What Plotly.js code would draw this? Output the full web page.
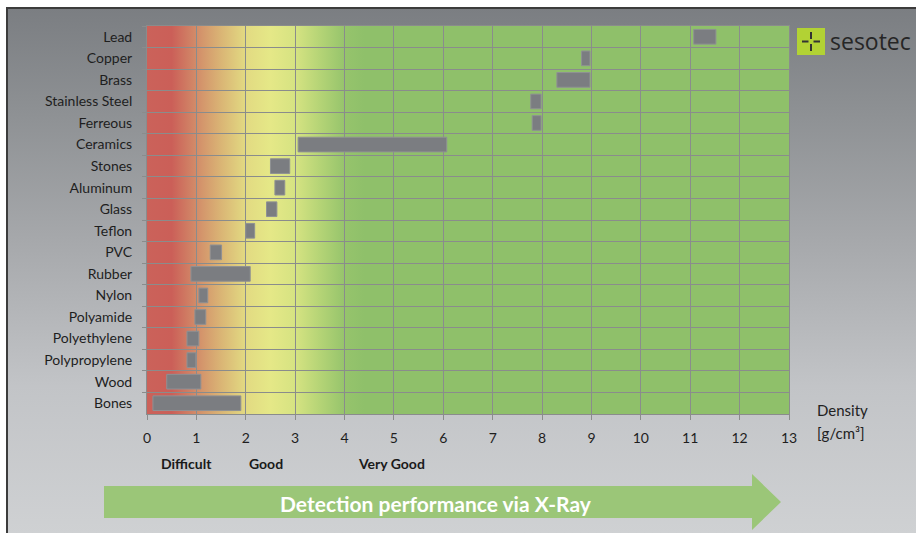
<!DOCTYPE html>
<html>
<head>
<meta charset="utf-8">
<script src="https://cdn.plot.ly/plotly-3.0.1.min.js"></script>
<style>
  html, body { margin: 0; padding: 0; background: #ffffff; width: 916px; height: 533px; overflow: hidden; }
  #bg { position: absolute; left: 6px; top: 7px; width: 910px; height: 526px; box-sizing: border-box;
        border-left: 2px solid #3c3c3c; border-top: 2px solid #3c3c3c;
        background: linear-gradient(to bottom, #7b7e82 0%, #8e9194 20%, #a7a9ac 45%, #c2c4c7 72%, #cfd1d3 100%); }
  #chart { position: absolute; left: 0; top: 0; width: 916px; height: 533px; }
</style>
</head>
<body>
<div id="bg"></div>
<div id="chart"></div>
<script>
// ---- data ----
var categories = ['Lead','Copper','Brass','Stainless Steel','Ferreous','Ceramics','Stones','Aluminum','Glass','Teflon','PVC','Rubber','Nylon','Polyamide','Polyethylene','Polypropylene','Wood','Bones'];
var densityMin = [11.07, 8.80, 8.30, 7.77, 7.80, 3.06, 2.50, 2.59, 2.42, 2.00, 1.28, 0.89, 1.05, 0.97, 0.81, 0.81, 0.40, 0.12];
var densityMax = [11.52, 8.97, 8.97, 7.98, 7.98, 6.07, 2.89, 2.79, 2.63, 2.18, 1.51, 2.09, 1.23, 1.19, 1.05, 0.99, 1.09, 1.90];
var xTickValues = [0,1,2,3,4,5,6,7,8,9,10,11,12,13];
var ratingLabels = ['Difficult','Good','Very Good'];
var arrowLabel = 'Detection performance via X-Ray';
var axisTitleLines = ['Density','[g/cm³]'];
var logoText = 'sesotec';

// ---- layout helpers (pixel -> paper) ----
var L = 147, R = 789, T = 26, B = 414;
function px(x) { return (x - L) / (R - L); }
function py(y) { return (B - y) / (B - T); }

// background gradient (density position, colour)
var gradStops = [[0,'#cb625a'],[0.5,'#cb5f58'],[1.0,'#d28c69'],[1.5,'#dab575'],[2.0,'#e2da82'],[2.5,'#e5e887'],[3.0,'#d6e382'],[3.5,'#b5d476'],[4.0,'#96c46c'],[4.4,'#8fc06a'],[13,'#8fc06a']];
var stopsSvg = gradStops.map(function(s){ return "<stop offset='" + (s[0]/13) + "' stop-color='" + s[1] + "'/>"; }).join('');
var svg = "<svg xmlns='http://www.w3.org/2000/svg' width='1300' height='10' viewBox='0 0 1300 10' preserveAspectRatio='none'><defs><linearGradient id='g' x1='0' x2='1' y1='0' y2='0'>" + stopsSvg + "</linearGradient></defs><rect x='0' y='0' width='1300' height='10' fill='url(#g)'/></svg>";
var gradSrc = 'data:image/svg+xml;base64,' + btoa(svg);

var widths = densityMax.map(function(v, i){ return v - densityMin[i]; });

var trace = {
  type: 'bar',
  orientation: 'h',
  y: categories,
  x: widths,
  base: densityMin,
  marker: { color: '#7b7d81', line: { color: '#8f9194', width: 1 } },
  hoverinfo: 'skip'
};

var gridCol = '#8a8c8c';
var font = 'Lato, "Open Sans", sans-serif';

var annotations = [
  { text: ratingLabels[0], x: px(159), y: py(463) },
  { text: ratingLabels[1], x: px(247), y: py(463) },
  { text: ratingLabels[2], x: px(356), y: py(463) }
].map(function(a){
  return { text: '<b>' + a.text + '</b>', x: a.x, y: a.y, xref: 'paper', yref: 'paper', xanchor: 'left', yanchor: 'middle', showarrow: false, font: { family: font, size: 14, color: '#1a1a1a' } };
});
annotations.push({ text: axisTitleLines[0], x: px(815), y: py(410), xref: 'paper', yref: 'paper', xanchor: 'left', yanchor: 'middle', showarrow: false, font: { family: font, size: 15, color: '#222' } });
annotations.push({ text: axisTitleLines[1], x: px(815), y: py(433), xref: 'paper', yref: 'paper', xanchor: 'left', yanchor: 'middle', showarrow: false, font: { family: font, size: 15, color: '#222' } });
annotations.push({ text: '<b>' + arrowLabel + '</b>', x: px(436), y: py(503), xref: 'paper', yref: 'paper', xanchor: 'center', yanchor: 'middle', showarrow: false, font: { family: font, size: 21, color: '#ffffff' } });
annotations.push({ text: logoText, x: px(828), y: py(41), xref: 'paper', yref: 'paper', xanchor: 'left', yanchor: 'middle', showarrow: false, font: { family: '"Open Sans", sans-serif', size: 23, color: '#262626' } });

// arrow path in paper coordinates
function P(x, y) { return px(x).toFixed(5) + ',' + py(y).toFixed(5); }
var arrowPath = 'M' + P(104, 486) + ' L' + P(752, 486) + ' L' + P(752, 474) + ' L' + P(781, 502) + ' L' + P(752, 530) + ' L' + P(752, 518) + ' L' + P(104, 518) + ' Z';

var shapes = [
  { type: 'path', path: arrowPath, xref: 'paper', yref: 'paper', fillcolor: '#9bc678', line: { width: 0 }, layer: 'above' },
  { type: 'rect', xref: 'paper', yref: 'paper', x0: px(797), x1: px(825), y0: py(55), y1: py(28), fillcolor: '#b2d234', line: { width: 0 } },
  { type: 'line', xref: 'paper', yref: 'paper', x0: px(802), x1: px(808.5), y0: py(41.5), y1: py(41.5), line: { color: '#333', width: 2 } },
  { type: 'line', xref: 'paper', yref: 'paper', x0: px(813.5), x1: px(820), y0: py(41.5), y1: py(41.5), line: { color: '#333', width: 2 } },
  { type: 'line', xref: 'paper', yref: 'paper', x0: px(811), x1: px(811), y0: py(32), y1: py(39), line: { color: '#333', width: 2 } },
  { type: 'line', xref: 'paper', yref: 'paper', x0: px(811), x1: px(811), y0: py(44), y1: py(51), line: { color: '#333', width: 2 } }
];

var layout = {
  width: 916, height: 533,
  margin: { l: L, r: 916 - R, t: T, b: 533 - B, pad: 0 },
  paper_bgcolor: 'rgba(0,0,0,0)',
  plot_bgcolor: 'rgba(0,0,0,0)',
  showlegend: false,
  bargap: 0.32,
  xaxis: {
    range: [0, 13], tickvals: xTickValues, ticktext: xTickValues.map(String),
    showgrid: true, gridcolor: gridCol, gridwidth: 1, zeroline: false,
    showline: true, linecolor: gridCol, linewidth: 1, mirror: true,
    ticks: 'outside', ticklen: 5, tickcolor: gridCol, ticklabelstandoff: 6,
    tickfont: { family: font, size: 14, color: '#1e1e1e' }, fixedrange: true
  },
  yaxis: {
    type: 'category', categoryorder: 'array', categoryarray: categories, autorange: 'reversed',
    tickson: 'boundaries', showgrid: true, gridcolor: gridCol, gridwidth: 1,
    showline: true, linecolor: gridCol, linewidth: 1, mirror: true,
    ticks: 'outside', ticklen: 4, tickcolor: gridCol, ticklabelstandoff: 11,
    tickfont: { family: font, size: 14, color: '#1e1e1e' }, fixedrange: true
  },
  images: [{ source: gradSrc, xref: 'x', yref: 'paper', x: 0, y: 1, sizex: 13, sizey: 1, sizing: 'stretch', xanchor: 'left', yanchor: 'top', layer: 'below' }],
  annotations: annotations,
  shapes: shapes
};

Plotly.newPlot('chart', [trace], layout, { staticPlot: true, displayModeBar: false });
</script>
</body>
</html>
